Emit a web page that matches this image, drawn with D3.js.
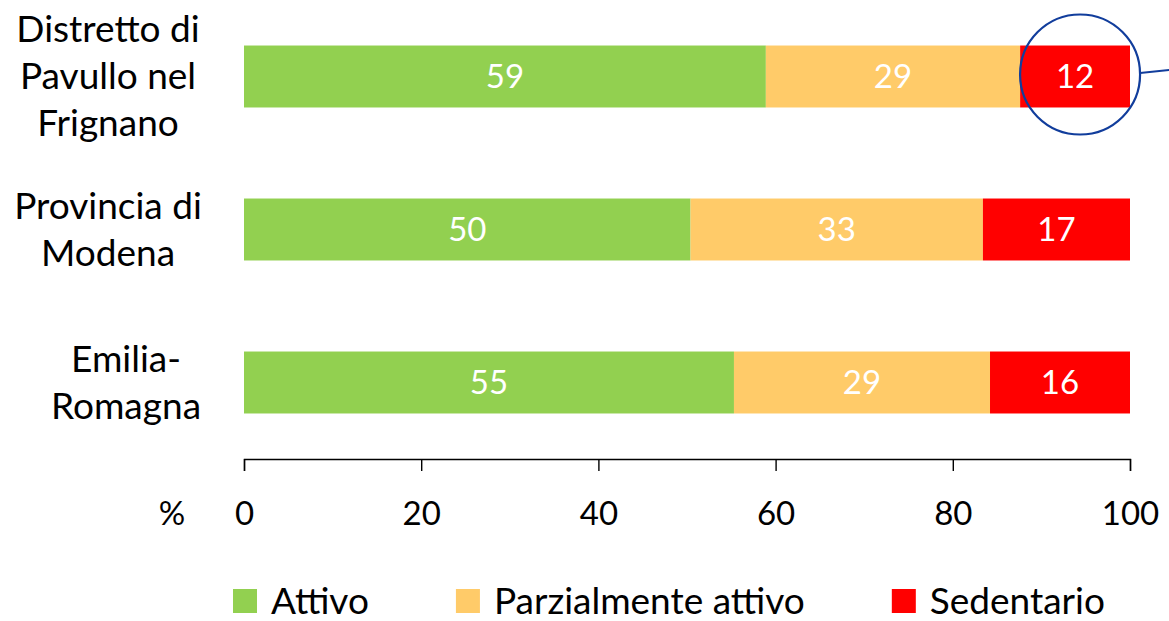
<!DOCTYPE html>
<html>
<head>
<meta charset="utf-8">
<script src="https://cdn.jsdelivr.net/npm/d3@7"></script>
<style>
    html, body { margin: 0; padding: 0; background: #fff; }
    svg { display: block; font-family: Lato, "Open Sans", sans-serif; }
</style>
</head>
<body>
<div id="chart"></div>
<script>
const categories = ["Distretto di Pavullo nel Frignano", "Provincia di Modena", "Emilia-Romagna"];
const categoryLines = [["Distretto di", "Pavullo nel", "Frignano"], ["Provincia di", "Modena"], ["Emilia-", "Romagna"]];
const seriesNames = ["Attivo", "Parzialmente attivo", "Sedentario"];
const attivo = [58.9, 50.4, 55.3];
const parzialmente = [28.7, 33.0, 28.9];
const sedentario = [12.4, 16.6, 15.8];
const xTicks = [0, 20, 40, 60, 80, 100];
const colors = ["#92D050", "#FFCB69", "#FF0000"];

const width = 1169;
const height = 621;
const numSize = 33;
const textSize = 37;

const svg = d3.select("#chart")
    .append("svg")
    .attr("width", width)
    .attr("height", height);

const rows = categories.map((c, i) => ({
    category: c,
    [seriesNames[0]]: attivo[i],
    [seriesNames[1]]: parzialmente[i],
    [seriesNames[2]]: sedentario[i]
}));

const stacked = d3.stack().keys(seriesNames)(rows);

const x = d3.scaleLinear().domain([0, 100]).range([244, 1130]);
const y = d3.scaleBand()
    .domain(categories)
    .range([0, 459])
    .paddingInner(0.595)
    .paddingOuter(0.2975);

// bars
const layer = svg.selectAll(".layer")
    .data(stacked)
    .enter().append("g")
    .attr("class", "layer")
    .attr("fill", (d, i) => colors[i]);

layer.selectAll("rect")
    .data(d => d)
    .enter().append("rect")
    .attr("x", d => x(d[0]))
    .attr("y", d => y(d.data.category))
    .attr("width", d => x(d[1]) - x(d[0]))
    .attr("height", y.bandwidth());

layer.selectAll("text")
    .data(d => d)
    .enter().append("text")
    .attr("x", d => (x(d[0]) + x(d[1])) / 2)
    .attr("y", d => y(d.data.category) + y.bandwidth() / 2)
    .attr("dy", "0.36em")
    .attr("text-anchor", "middle")
    .attr("fill", "#fff")
    .style("font-size", numSize + "px")
    .text(d => d3.format(".0f")(d[1] - d[0]));

// category labels
const lineHeight = 47;
const labelCenterX = i => (i === 2 ? 126 : 108);
categories.forEach((c, i) => {
    const lines = categoryLines[i];
    const cy = y(c) + y.bandwidth() / 2;
    const t = svg.append("text")
        .attr("text-anchor", "middle")
        .attr("fill", "#000")
        .style("font-size", textSize + "px");
    lines.forEach((line, j) => {
        t.append("tspan")
            .attr("x", labelCenterX(i))
            .attr("y", cy + (j - (lines.length - 1) / 2) * lineHeight)
            .attr("dy", "0.35em")
            .text(line);
    });
});

// x axis
const axis = svg.append("g")
    .attr("transform", "translate(0,459)")
    .call(d3.axisBottom(x).tickValues(xTicks).tickSize(12).tickSizeOuter(12));

axis.select(".domain").attr("stroke", "#000").attr("stroke-width", 1.4);
axis.selectAll(".tick line").attr("stroke", "#000").attr("stroke-width", 1.4);
axis.selectAll(".tick text")
    .attr("y", 66)
    .attr("dy", 0)
    .attr("fill", "#000")
    .style("font-size", numSize + "px")
    .style("font-family", "Lato, 'Open Sans', sans-serif");

svg.append("text")
    .attr("x", 172)
    .attr("y", 525)
    .attr("text-anchor", "middle")
    .style("font-size", numSize + "px")
    .text("%");

// highlight circle round the first red segment
const hl = stacked[2][0];
const hcx = (x(hl[0]) + x(hl[1])) / 2 + 5;
const hcy = y(categories[0]) + y.bandwidth() / 2 - 2;
const hr = 60;
svg.append("circle")
    .attr("cx", hcx)
    .attr("cy", hcy)
    .attr("r", hr)
    .attr("fill", "none")
    .attr("stroke", "#113D9C")
    .attr("stroke-width", 2.2);
svg.append("line")
    .attr("x1", hcx + hr)
    .attr("y1", hcy - 1.5)
    .attr("x2", width + 5)
    .attr("y2", hcy - 5)
    .attr("stroke", "#113D9C")
    .attr("stroke-width", 2.2);

// legend
const legend = svg.append("g").attr("transform", "translate(233,601)");
let lx = 0;
seriesNames.forEach((name, i) => {
    const g = legend.append("g").attr("transform", `translate(${lx},0)`);
    g.append("rect")
        .attr("x", 0)
        .attr("y", -12)
        .attr("width", 24)
        .attr("height", 24)
        .attr("fill", colors[i]);
    const t = g.append("text")
        .attr("x", 38)
        .attr("y", 0)
        .attr("dy", "0.35em")
        .style("font-size", textSize + "px")
        .attr("fill", "#000")
        .text(name);
    lx += 38 + t.node().getComputedTextLength() + 87;
});
</script>
</body>
</html>
